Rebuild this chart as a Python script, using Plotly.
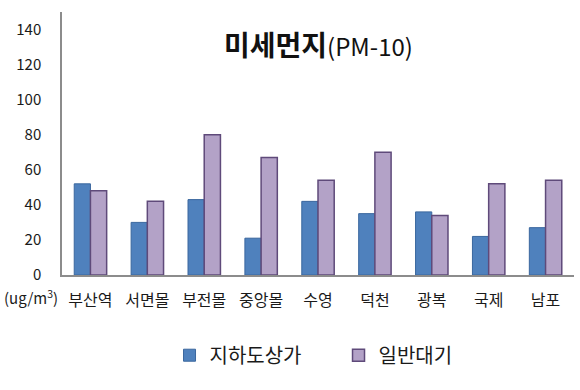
import plotly.graph_objects as go

categories = ["부산역", "서면몰", "부전몰", "중앙몰", "수영", "덕천", "광복", "국제", "남포"]
underground = [52, 30, 43, 21, 42, 35, 36, 22, 27]
ambient = [48, 42, 80, 67, 54, 70, 34, 52, 54]
ytick_vals = [0, 20, 40, 60, 80, 100, 120, 140]

fig = go.Figure()
fig.add_trace(go.Bar(x=categories, y=underground, name="지하도상가",
                     marker=dict(color="#4F81BD", line=dict(color="#3A679E", width=1))))
fig.add_trace(go.Bar(x=categories, y=ambient, name="일반대기",
                     marker=dict(color="#B3A2C7", line=dict(color="#5F4A7A", width=1.5))))

font_family = "Noto Sans CJK KR, Noto Sans, sans-serif"
fig.update_layout(
    width=580, height=390,
    margin=dict(l=62, r=6, t=12, b=115, autoexpand=False),
    paper_bgcolor="white", plot_bgcolor="white",
    barmode="group", bargap=0.43, bargroupgap=0.0,
    font=dict(family=font_family, size=14, color="#1a1a1a"),
    showlegend=True,
    legend=dict(orientation="h", x=0.21, xanchor="left", y=-0.305, yanchor="middle",
                font=dict(size=20, color="#1a1a1a"), itemwidth=30,
                entrywidth=124, traceorder="normal"),
)
fig.update_xaxes(showline=True, linecolor="#8C8C8C", linewidth=1.5,
                 ticks="", showgrid=False, tickfont=dict(size=16),
                 ticklabelstandoff=10)
fig.update_yaxes(range=[0, 150], tickvals=ytick_vals, showline=True,
                 linecolor="#8C8C8C", linewidth=1.5, ticks="", showgrid=False,
                 zeroline=False, ticklabelstandoff=16, tickfont=dict(size=15))

fig.add_annotation(text="<b>미세먼지</b><span style='font-size:24px'>(PM-10)</span>",
                   xref="paper", yref="paper", x=0.5, y=0.88, xanchor="center",
                   yanchor="middle", showarrow=False,
                   font=dict(size=28, color="#111111", family=font_family))
fig.add_annotation(text="(ug/m<sup>3</sup>)", xref="paper", yref="paper",
                   x=-0.06, y=-0.085, xanchor="center", yanchor="middle", showarrow=False,
                   font=dict(size=15, color="#1a1a1a", family=font_family))

fig.write_html("out.html", config={"displayModeBar": False},
               post_script="document.body.style.margin='0';document.body.style.padding='0';")
